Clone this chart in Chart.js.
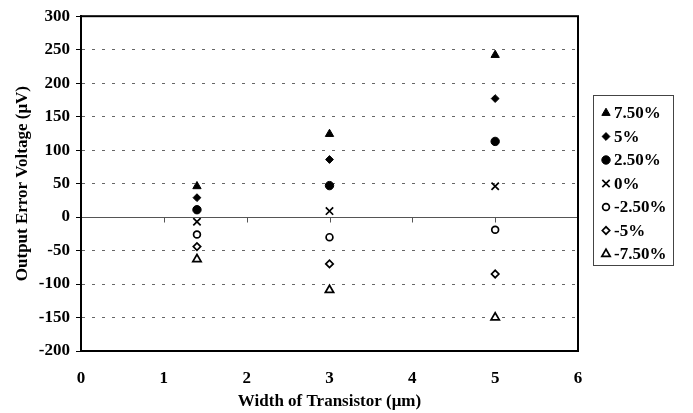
<!DOCTYPE html>
<html>
<head>
<meta charset="utf-8">
<script src="https://cdn.jsdelivr.net/npm/chart.js@4/dist/chart.umd.min.js"></script>
<style>
  html, body { margin: 0; padding: 0; background: #fff; }
  #chart { display: block; }
</style>
</head>
<body>
<canvas id="chart" width="693" height="413"></canvas>
<script>
// transistor widths (um) and output error per mismatch level (uV)
const widths = [1.4, 3, 5];
const seriesLabels = ['7.50%', '5%', '2.50%', '0%', '-2.50%', '-5%', '-7.50%'];
const err75 = [46, 124, 242];
const err50 = [29, 86, 177];
const err25 = [11, 47, 113];
const err0 = [-7, 9, 46];
const errM25 = [-26, -30, -19];
const errM50 = [-44, -70, -85];
const errM75 = [-63, -109, -150];
const yTicks = [-200, -150, -100, -50, 0, 50, 100, 150, 200, 250, 300];
const xTicks = [0, 1, 2, 3, 4, 5, 6];

const seriesValues = [err75, err50, err25, err0, errM25, errM50, errM75];
const markers = [
  { pointStyle: 'triangle', radius: 4.8, fill: '#000', borderWidth: 1 },
  { pointStyle: 'rectRot', radius: 3.9, fill: '#000', borderWidth: 1 },
  { pointStyle: 'circle', radius: 4.2, fill: '#000', borderWidth: 1 },
  { pointStyle: 'crossRot', radius: 5.2, fill: '#000', borderWidth: 1.7 },
  { pointStyle: 'circle', radius: 3.4, fill: '#fff', borderWidth: 1.7 },
  { pointStyle: 'rectRot', radius: 3.7, fill: '#fff', borderWidth: 1.7 },
  { pointStyle: 'triangle', radius: 4.8, fill: '#fff', borderWidth: 1.7 }
];

const serif = "'Liberation Serif', 'Times New Roman', serif";
Chart.defaults.font.family = serif;
Chart.defaults.font.weight = 'bold';
Chart.defaults.color = '#000';

const datasets = seriesLabels.map((label, i) => ({
  label,
  data: widths.map((w, j) => ({ x: w, y: seriesValues[i][j] })),
  pointStyle: markers[i].pointStyle,
  pointRadius: markers[i].radius,
  pointHoverRadius: markers[i].radius,
  pointBackgroundColor: markers[i].fill,
  pointBorderColor: '#000',
  pointBorderWidth: markers[i].borderWidth,
  showLine: false
}));

// frame, solid zero line with its tick marks, and the boxed legend
const framePlugin = {
  id: 'frame',
  afterDraw(chart) {
    const { ctx, chartArea: a, scales: { x, y } } = chart;
    ctx.save();
    const y0 = Math.round(y.getPixelForValue(0)) + 0.5;
    ctx.strokeStyle = '#555';
    ctx.lineWidth = 1;
    ctx.beginPath();
    ctx.moveTo(a.left, y0);
    ctx.lineTo(a.right, y0);
    xTicks.slice(1, -1).forEach(v => {
      const px = Math.round(x.getPixelForValue(v)) + 0.5;
      ctx.moveTo(px, y0);
      ctx.lineTo(px, y0 + 5);
    });
    ctx.stroke();

    ctx.strokeStyle = '#000';
    ctx.lineWidth = 2;
    ctx.strokeRect(a.left, a.top, a.right - a.left, a.bottom - a.top);

    // legend
    const lx = 593.5, ly = 95.5, lw = 80, lh = 170;
    ctx.lineWidth = 1;
    ctx.strokeStyle = '#444';
    ctx.strokeRect(lx, ly, lw, lh);
    ctx.font = 'bold 17px ' + serif;
    ctx.textBaseline = 'middle';
    ctx.textAlign = 'left';
    seriesLabels.forEach((label, i) => {
      const cy = 113 + i * 23.5;
      const m = markers[i];
      ctx.fillStyle = m.fill;
      ctx.strokeStyle = '#000';
      ctx.lineWidth = m.borderWidth;
      Chart.helpers.drawPoint(ctx, { pointStyle: m.pointStyle, radius: m.radius, borderWidth: m.borderWidth, rotation: 0 }, 606, cy);
      ctx.fillStyle = '#000';
      ctx.fillText(label, 614, cy + 1);
    });
    ctx.restore();
  }
};

new Chart(document.getElementById('chart'), {
  type: 'scatter',
  data: { datasets },
  options: {
    responsive: false,
    animation: false,
    devicePixelRatio: 1,
    layout: { padding: { top: 13, right: 115, left: 0, bottom: 0 } },
    plugins: { legend: { display: false }, tooltip: { enabled: false } },
    scales: {
      x: {
        type: 'linear',
        min: 0,
        max: 6,
        afterBuildTicks: s => { s.ticks = xTicks.map(v => ({ value: v })); },
        afterFit: s => { s.height = 62; },
        ticks: { font: { size: 17, weight: 'bold' }, padding: 17, maxRotation: 0 },
        grid: { display: false, drawTicks: false },
        border: { display: true, color: '#000', width: 2 },
        title: {
          display: true,
          text: 'Width of Transistor (μm)',
          font: { size: 17, weight: 'bold' },
          padding: { top: 4, bottom: 1 }
        }
      },
      y: {
        type: 'linear',
        min: -200,
        max: 300,
        afterBuildTicks: s => { s.ticks = yTicks.map(v => ({ value: v })); },
        afterFit: s => { s.width = 81; },
        ticks: { font: { size: 17, weight: 'bold' }, padding: 6 },
        grid: {
          color: ctx => (ctx.tick && ctx.tick.value === 0 ? 'rgba(0,0,0,0)' : '#666'),
          tickColor: '#000',
          tickLength: 5,
          lineWidth: 1
        },
        border: { display: true, color: '#000', width: 2, dash: [3, 7] },
        title: {
          display: true,
          text: 'Output Error Voltage (μV)',
          font: { size: 17, weight: 'bold' },
          padding: { top: 12, bottom: 0 }
        }
      }
    }
  },
  plugins: [framePlugin]
});
</script>
</body>
</html>
